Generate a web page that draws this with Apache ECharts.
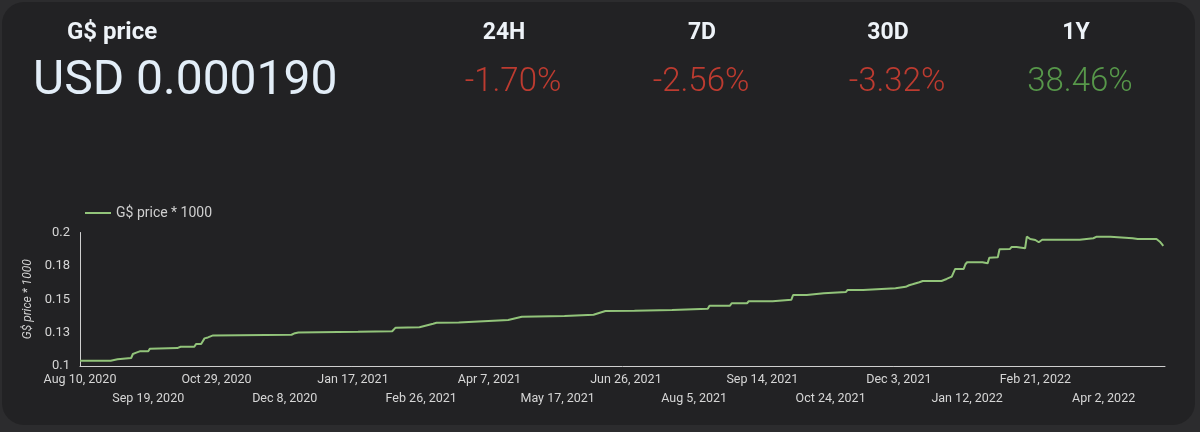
<!DOCTYPE html>
<html lang="en">
<head>
    <meta charset="UTF-8">
    <title>G$ price</title>
    <script src="https://cdn.jsdelivr.net/npm/echarts@6/dist/echarts.min.js"></script>
    <style>
        html, body { margin: 0; padding: 0; background: #2c2c2e; }
        #main { width: 1200px; height: 432px; }
    </style>
</head>
<body>
    <div id="main"></div>
    <script>
    // data
    var startDate = '2020-08-10';
    // days after startDate
    var dayOffsets = [
        0, 18, 19, 22, 23, 30, 31, 33, 35, 40, 41, 57, 59, 67, 68, 71, 73, 75, 78, 124,
        126, 128, 163, 183, 185, 199, 200, 207, 209, 222, 223, 251, 252, 259, 284, 285, 301, 302, 308, 325,
        347, 348, 368, 369, 381, 382, 391, 392, 406, 407, 417, 418, 426, 427, 436, 437, 449, 450, 459, 460,
        478, 479, 484, 486, 488, 492, 494, 505, 508, 511, 513, 518, 519, 520, 529, 530, 532, 533, 538, 539,
        545, 546, 549, 550, 554, 555, 557, 560, 562, 564, 586, 587, 594, 596, 604, 605, 617, 620, 631, 633, 635
    ];
    // G$ price * 1000
    var prices = [
        0.104, 0.104, 0.105, 0.105, 0.106, 0.106, 0.109, 0.110, 0.111, 0.111, 0.113, 0.1134, 0.1144, 0.1144, 0.1164, 0.1164, 0.1207, 0.1214, 0.1229, 0.1234,
        0.1246, 0.1251, 0.1256, 0.126, 0.1287, 0.129, 0.130, 0.1317, 0.1324, 0.1326, 0.1332, 0.1345, 0.1352, 0.1369, 0.1375, 0.1384, 0.1384, 0.1397, 0.1412, 0.1414,
        0.1419, 0.1429, 0.1429, 0.1452, 0.1452, 0.147, 0.147, 0.1485, 0.1485, 0.1497, 0.1497, 0.1532, 0.1532, 0.1545, 0.1545, 0.1555, 0.1555, 0.157, 0.157, 0.1579,
        0.1582, 0.159, 0.1593, 0.1605, 0.1612, 0.1627, 0.1637, 0.1637, 0.1652, 0.1669, 0.1727, 0.1727, 0.1762, 0.1777, 0.1777, 0.1769, 0.1769, 0.1811, 0.1814, 0.1874,
        0.1876, 0.1891, 0.1891, 0.1882, 0.1882, 0.1969, 0.1951, 0.1944, 0.1927, 0.1946, 0.1946, 0.1957, 0.1957, 0.1969, 0.1969, 0.1957, 0.1957, 0.1951, 0.1951, 0.1931, 0.190
    ];
    var periodNames = ['24H', '7D', '30D', '1Y'];
    var periodChanges = ['-1.70%', '-2.56%', '-3.32%', '38.46%'];
    var currentPrice = 'USD 0.000190';

    var monthNames = ['Jan', 'Feb', 'Mar', 'Apr', 'May', 'Jun', 'Jul', 'Aug', 'Sep', 'Oct', 'Nov', 'Dec'];
    var startMs = Date.parse(startDate + 'T00:00:00Z');
    function dayLabel(d) {
        var dt = new Date(startMs + Math.round(d) * 86400000);
        return monthNames[dt.getUTCMonth()] + ' ' + dt.getUTCDate() + ', ' + dt.getUTCFullYear();
    }

    var seriesData = dayOffsets.map(function (d, i) { return [d, prices[i]]; });

    // header texts
    var periodX = [504, 702, 888, 1076];
    var valueX = [513, 701, 897, 1080];
    var header = [
        { type: 'text', style: { text: 'G$ price', x: 112, y: 33, textAlign: 'center', textVerticalAlign: 'middle', fill: '#eef3f8', font: 'bold 24px Roboto' } },
        { type: 'text', style: { text: currentPrice, x: 33, y: 82, textAlign: 'left', textVerticalAlign: 'middle', fill: '#e3eef8', font: '48px Roboto' } }
    ];
    periodNames.forEach(function (p, i) {
        header.push({ type: 'text', style: { text: p, x: periodX[i], y: 33, textAlign: 'center', textVerticalAlign: 'middle', fill: '#eef3f8', font: 'bold 23px Roboto' } });
        header.push({ type: 'text', style: { text: periodChanges[i], x: valueX[i], y: 83, textAlign: 'center', textVerticalAlign: 'middle',
            fill: periodChanges[i].charAt(0) === '-' ? '#bd3b30' : '#57984a', font: '300 33px Roboto' } });
    });

    // two bottom axes so the alternating date rows don't get hidden as overlaps
    function dateAxis(row) {
        return {
            type: 'value',
            position: 'bottom',
            min: 0, max: 636, interval: 40,
            splitLine: { show: false },
            axisTick: { show: false },
            axisLine: { show: row === 0, onZero: false, lineStyle: { color: '#cfcfcf', width: 1 } },
            axisLabel: {
                color: '#d6d6d6', fontSize: 12.5, margin: row === 0 ? 7 : 26,
                showMinLabel: true, showMaxLabel: false, hideOverlap: false,
                formatter: function (v) {
                    return Math.round(v / 40) % 2 === row ? dayLabel(v) : '';
                }
            }
        };
    }

    var myChart = echarts.init(document.getElementById('main'));
    var option = {
        backgroundColor: '#2c2c2e',
        textStyle: { fontFamily: 'Roboto' },
        graphic: [
            { type: 'rect', z: -10, shape: { x: 2, y: 2, width: 1193, height: 423, r: 22 }, style: { fill: '#222224' } }
        ].concat(header),
        legend: {
            left: 80, top: 201,
            icon: 'rect',
            itemWidth: 26, itemHeight: 2, itemGap: 8,
            textStyle: { color: '#cfcfcf', fontSize: 14 },
            data: ['G$ price * 1000']
        },
        grid: { left: 80, right: 35, top: 232.5, bottom: 66, containLabel: false },
        xAxis: [dateAxis(0), dateAxis(1)],
        yAxis: {
            type: 'value',
            min: 0.1, max: 0.2, interval: 0.025,
            name: 'G$ price * 1000',
            nameLocation: 'middle', nameRotate: 90, nameGap: 43,
            nameTextStyle: { color: '#cfcfcf', fontSize: 12, fontStyle: 'italic' },
            splitLine: { show: false },
            axisTick: { show: false },
            axisLine: { show: true, lineStyle: { color: '#cfcfcf', width: 1 } },
            axisLabel: {
                color: '#d6d6d6', fontSize: 13, margin: 10,
                formatter: function (v) { return String(Math.round(v * 100 + 1e-6) / 100); }
            }
        },
        series: [{
            name: 'G$ price * 1000',
            type: 'line',
            symbol: 'none',
            data: seriesData,
            lineStyle: { color: '#92c47a', width: 2 },
            itemStyle: { color: '#92c47a' }
        }]
    };
    myChart.setOption(option);
    </script>
</body>
</html>
